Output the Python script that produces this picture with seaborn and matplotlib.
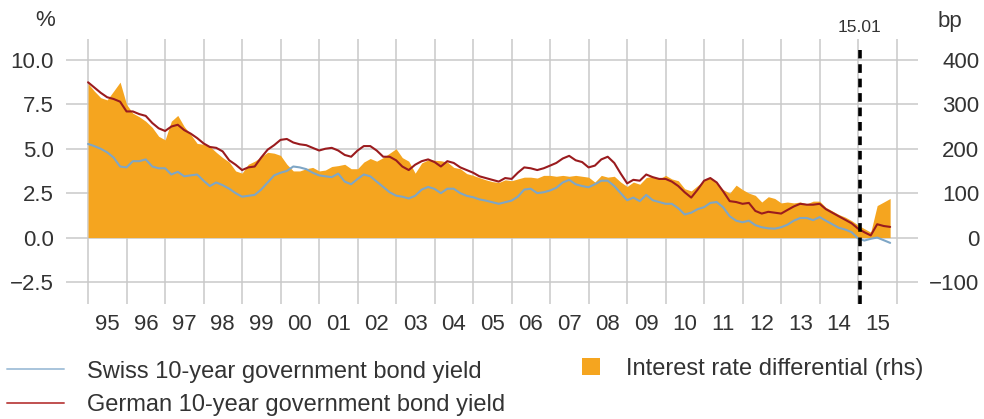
import pandas as pd
import numpy as np
import matplotlib
matplotlib.use("Agg")
import matplotlib.pyplot as plt
import matplotlib.dates as mdates
from matplotlib.lines import Line2D
from matplotlib.patches import Patch
from matplotlib.ticker import FixedLocator, NullFormatter, FixedFormatter
import seaborn as sns

# bimonthly readings, Jan 1995 .. Nov 2015 (one row per year)
german_yield = [
    8.74, 8.45, 8.15, 7.90, 7.80, 7.65,
    7.10, 7.10, 6.95, 6.85, 6.45, 6.15,
    6.00, 6.25, 6.35, 6.05, 5.85, 5.60,
    5.30, 5.10, 5.05, 4.85, 4.35, 4.10,
    3.80, 3.95, 4.00, 4.50, 4.95, 5.20,
    5.50, 5.55, 5.35, 5.25, 5.20, 5.05,
    4.90, 5.00, 5.05, 4.90, 4.65, 4.55,
    4.90, 5.15, 5.15, 4.90, 4.55, 4.55,
    4.35, 4.00, 3.80, 4.10, 4.30, 4.40,
    4.25, 4.00, 4.30, 4.20, 3.95, 3.80,
    3.65, 3.45, 3.35, 3.25, 3.15, 3.35,
    3.30, 3.65, 3.95, 3.90, 3.80, 3.90,
    4.05, 4.20, 4.45, 4.60, 4.35, 4.25,
    3.95, 4.05, 4.40, 4.55, 4.20, 3.60,
    3.05, 3.25, 3.20, 3.55, 3.40, 3.30,
    3.30, 3.15, 2.90, 2.55, 2.25, 2.70,
    3.20, 3.35, 3.10, 2.60, 2.05, 2.00,
    1.90, 1.95, 1.50, 1.35, 1.45, 1.40,
    1.35, 1.55, 1.75, 1.90, 1.85, 1.85,
    1.90, 1.60, 1.40, 1.20, 1.00, 0.80,
    0.50, 0.30, 0.12, 0.75, 0.65, 0.60,
]

swiss_yield = [
    5.27, 5.15, 5.00, 4.80, 4.50, 4.00,
    3.95, 4.30, 4.30, 4.40, 4.00, 3.90,
    3.90, 3.55, 3.70, 3.45, 3.50, 3.55,
    3.20, 2.90, 3.10, 2.95, 2.75, 2.50,
    2.30, 2.35, 2.40, 2.70, 3.10, 3.50,
    3.65, 3.75, 4.00, 3.95, 3.85, 3.65,
    3.50, 3.45, 3.40, 3.60, 3.15, 3.00,
    3.30, 3.55, 3.45, 3.15, 2.85, 2.55,
    2.36, 2.30, 2.20, 2.35, 2.70, 2.85,
    2.74, 2.50, 2.75, 2.75, 2.50, 2.35,
    2.27, 2.15, 2.08, 1.99, 1.90, 1.99,
    2.08, 2.30, 2.70, 2.75, 2.50, 2.55,
    2.65, 2.80, 3.10, 3.25, 3.00, 2.90,
    2.83, 3.00, 3.20, 3.20, 2.90, 2.50,
    2.10, 2.25, 2.05, 2.40, 2.10, 2.00,
    1.90, 1.90, 1.65, 1.30, 1.40, 1.60,
    1.71, 1.95, 2.00, 1.70, 1.20, 0.95,
    0.86, 0.95, 0.70, 0.58, 0.52, 0.50,
    0.58, 0.72, 0.95, 1.10, 1.10, 0.98,
    1.15, 0.95, 0.75, 0.55, 0.45, 0.30,
    -0.05, -0.17, -0.07, 0.00, -0.15, -0.30,
]

# interest rate differential in basis points (rhs)
spread_bp = [
    347, 330, 315, 310, 330, 350,
    300, 280, 272, 262, 248, 228,
    220, 262, 275, 250, 232, 212,
    210, 205, 192, 180, 170, 150,
    145, 165, 172, 182, 192, 190,
    185, 165, 150, 150, 155, 158,
    150, 152, 160, 162, 165, 155,
    155, 170, 178, 172, 180, 190,
    200, 180, 172, 145, 168, 175,
    174, 173, 170, 158, 155, 144,
    140, 135, 130, 126, 124, 130,
    128, 132, 136, 136, 134, 140,
    140, 138, 140, 138, 140, 138,
    136, 125, 140, 136, 138, 125,
    115, 125, 120, 135, 138, 132,
    140, 132, 128, 110, 105, 117,
    128, 136, 122, 108, 100, 118,
    108, 100, 95, 80, 92, 88,
    78, 80, 78, 80, 76, 82,
    82, 68, 60, 52, 46, 38,
    28, 20, 12, 72, 80, 88,
]

dates = pd.date_range("1995-01-01", periods=len(german_yield), freq="2MS")

year_labels = ["95", "96", "97", "98", "99", "00", "01", "02", "03", "04", "05",
               "06", "07", "08", "09", "10", "11", "12", "13", "14", "15"]
left_ticks = [-2.5, 0.0, 2.5, 5.0, 7.5, 10.0]
left_labels = ["\u22122.5", "0.0", "2.5", "5.0", "7.5", "10.0"]
right_ticks = [-100, 0, 100, 200, 300, 400]
right_labels = ["\u2212100", "0", "100", "200", "300", "400"]
event_date = pd.Timestamp("2015-01-15")

df = pd.DataFrame({"date": dates, "German": german_yield, "Swiss": swiss_yield, "spread": spread_bp})

# colours
orange = "#F5A51F"
dark_red = "#9A1B1E"
blue = "#7EA6C6"
grey_text = "#333333"

sns.set_style("white")
plt.rcParams["font.family"] = ["Liberation Sans", "DejaVu Sans"]
plt.rcParams["text.color"] = grey_text
plt.rcParams["xtick.labelcolor"] = grey_text
plt.rcParams["ytick.labelcolor"] = grey_text

fig = plt.figure(figsize=(9.84, 4.19), dpi=100)
ax = fig.add_axes([0.0671, 0.2745, 0.8659, 0.6325])
ax2 = ax.twinx()

# right axis (bp) sits below, carries the grid and the area
ax2.set_zorder(0)
ax.set_zorder(1)
ax.patch.set_visible(False)
ax2.patch.set_visible(True)
ax2.patch.set_facecolor("white")
ax2.xaxis.set_visible(True)
ax2.set_axisbelow(True)

ax2.fill_between(df["date"], 0, df["spread"], color=orange, linewidth=0)

sns.lineplot(data=df, x="date", y="Swiss", ax=ax, color=blue, linewidth=1.5)
sns.lineplot(data=df, x="date", y="German", ax=ax, color=dark_red, linewidth=1.5)

# dashed marker for 15 January 2015
ax.axvline(event_date, ymin=0, ymax=0.958, color="black", linewidth=2.6, dashes=(2.4, 1.6))
ax.annotate("15.01", xy=(event_date, 1.045), xycoords=("data", "axes fraction"),
            ha="center", va="center", fontsize=12.5, color=grey_text)

# limits (left % axis and right bp axis aligned: 1% = 40bp)
ax.set_ylim(-3.74, 11.18)
ax2.set_ylim(-3.74 * 40, 11.18 * 40)
ax.set_xlim(pd.Timestamp("1994-06-06"), pd.Timestamp("2016-07-23"))

year_starts = [pd.Timestamp(f"{y}-01-01") for y in range(1995, 2017)]
mid_years = [pd.Timestamp(f"{y}-07-02") for y in range(1995, 2016)]
ax.xaxis.set_major_locator(FixedLocator(mdates.date2num(year_starts)))
ax.xaxis.set_major_formatter(NullFormatter())
ax.xaxis.set_minor_locator(FixedLocator(mdates.date2num(mid_years)))
ax.xaxis.set_minor_formatter(FixedFormatter(year_labels))
ax.tick_params(axis="x", which="both", length=0, labelsize=16, pad=7)
ax2.tick_params(axis="x", which="both", length=0, labelbottom=False)

ax.set_yticks(left_ticks, left_labels)
ax.tick_params(axis="y", length=0, labelsize=16, pad=9)
ax2.set_yticks(right_ticks, right_labels, ha="right")
ax2.tick_params(axis="y", length=0, labelsize=16, pad=44)

ax2.grid(True, which="major", axis="both", color="#C9C9C9", linewidth=1.1)
ax.grid(False)

ax.set_xlabel("")
ax.set_ylabel("")
ax2.set_ylabel("")
for a in (ax, ax2):
    for s in a.spines.values():
        s.set_visible(False)

fig.text(0.046, 0.952, "%", fontsize=16, ha="center", va="center")
fig.text(0.978, 0.948, "bp", fontsize=16, ha="right", va="center")

# legend
line_handles = [Line2D([], [], color="#A8C4DC", linewidth=1.4),
                Line2D([], [], color="#C0504F", linewidth=1.4)]
fig.legend(line_handles,
           ["Swiss 10-year government bond yield", "German 10-year government bond yield"],
           loc="center left", bbox_to_anchor=(0.007, 0.073), frameon=False,
           fontsize=17, handlelength=2.4, handletextpad=1.0, labelspacing=0.5,
           borderpad=0, borderaxespad=0)
fig.legend([Patch(facecolor=orange, edgecolor="none")], ["Interest rate differential (rhs)"],
           loc="center left", bbox_to_anchor=(0.5915, 0.1193), frameon=False,
           fontsize=17, handlelength=0.75, handleheight=0.75, handletextpad=1.1,
           borderpad=0, borderaxespad=0)

fig.savefig("out.png", dpi=100)
